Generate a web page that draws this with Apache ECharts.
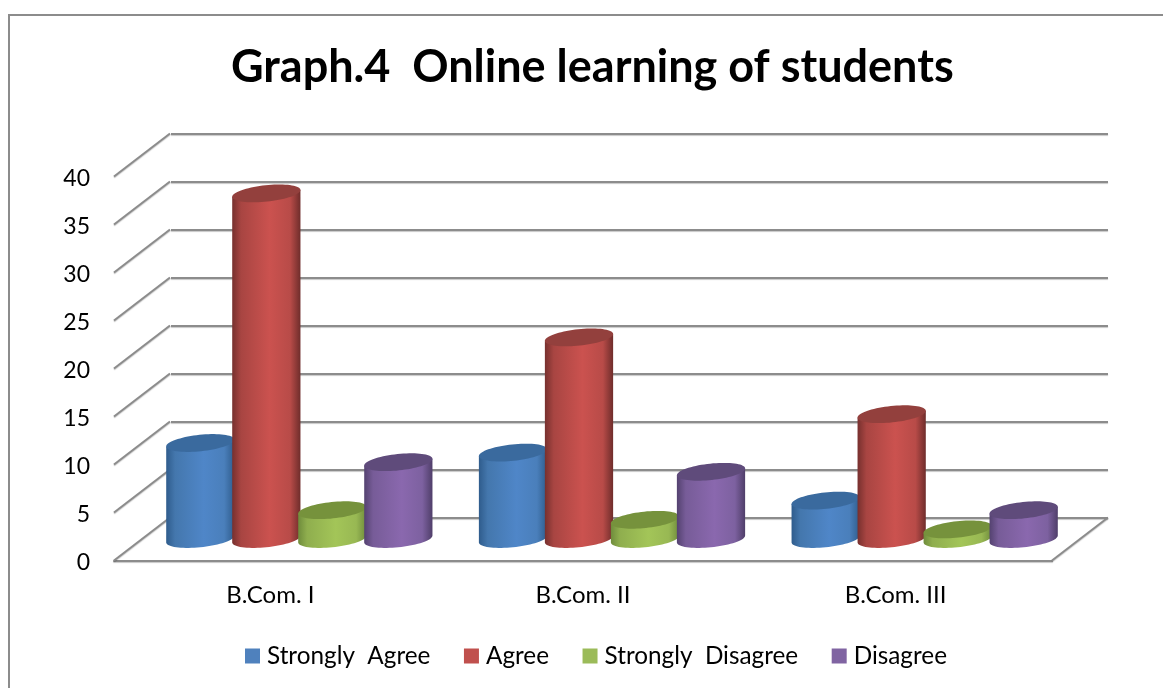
<!DOCTYPE html>
<html><head><meta charset="utf-8">
<style>html,body{margin:0;padding:0;background:#fff}#c{width:1163px;height:688px}</style>
<script src="https://cdn.jsdelivr.net/npm/echarts@6/dist/echarts.min.js"></script>
</head><body><div id="c"></div>
<script>
const categories = ['B.Com. I', 'B.Com. II', 'B.Com. III'];
const stronglyAgree = [10, 9, 4];
const agree = [36, 21, 13];
const stronglyDisagree = [3, 2, 1];
const disagree = [8, 7, 3];
const ticks = [0, 5, 10, 15, 20, 25, 30, 35, 40];

const FONT = 'Lato, Carlito, sans-serif';
const GRID = '#8c8c8c';
const SHADOW = {shadowColor:'rgba(0,0,0,0.22)', shadowBlur:1, shadowOffsetY:1};
const DEPTH_X = 56, DEPTH_Y = -43;
const PITCH = 66, RX = 34.3, RY = 8.2, TILT = -6 * Math.PI / 180;

const palette = [
  {name:'Strongly  Agree', data:stronglyAgree, legend:'#4f81bd', top:'#3a6a9e',
   stops:['#2f5c8c','#4477ad','#4f86c8','#4a7fbb','#2f5c8c']},
  {name:'Agree', data:agree, legend:'#c0504d', top:'#93403d',
   stops:['#77302e','#a84542','#cb524f','#b84b48','#6f2d2b']},
  {name:'Strongly  Disagree', data:stronglyDisagree, legend:'#9bbb59', top:'#76923c',
   stops:['#6f8c3c','#8fae4e','#a3c558','#98b853','#6f8c3c']},
  {name:'Disagree', data:disagree, legend:'#8064a2', top:'#5f4b7b',
   stops:['#544270','#775c98','#8a68ae','#7d61a0','#4f3e69']}
];

function ellipsePoint(cx, cy, t) {
  const c = Math.cos(t), s = Math.sin(t);
  return [cx + RX*c*Math.cos(TILT) - RY*s*Math.sin(TILT),
          cy + RX*c*Math.sin(TILT) + RY*s*Math.cos(TILT)];
}
function ellipse(cx, cy) {
  const pts = [];
  for (let i = 0; i < 72; i++) pts.push(ellipsePoint(cx, cy, i * Math.PI / 36));
  return pts;
}
function cylinderRender(seriesIdx, p) {
  return function (params, api) {
    const base = api.coord([api.value(0), 0]);
    const top = api.coord([api.value(0), api.value(1)]);
    const cx = base[0] + DEPTH_X/2 + 1 + (seriesIdx - 1.5) * PITCH;
    const by = base[1] + DEPTH_Y/2;
    const ty = top[1] + DEPTH_Y/2;
    const t0 = Math.atan2(-RY*Math.sin(TILT), RX*Math.cos(TILT));
    const body = [];
    for (let i = 0; i <= 36; i++) body.push(ellipsePoint(cx, by, t0 + i*Math.PI/36));
    body.push(ellipsePoint(cx, ty, t0 + Math.PI));
    body.push(ellipsePoint(cx, ty, t0));
    const grad = new echarts.graphic.LinearGradient(0,0,1,0,[
      {offset:0,color:p.stops[0]},{offset:0.13,color:p.stops[1]},
      {offset:0.55,color:p.stops[2]},{offset:0.85,color:p.stops[3]},{offset:1,color:p.stops[4]}]);
    return {type:'group', children:[
      {type:'polygon', shape:{points:body}, style:{fill:grad}},
      {type:'polygon', shape:{points:ellipse(cx, ty)}, style:{fill:p.top}}
    ]};
  };
}
function wallRender(params, api) {
  const v = api.value(0);
  const a = api.coord([0, v]);
  const band = api.size([1, 0])[0];
  const lx = a[0] - band/2, rx = lx + band * categories.length;
  const style = {stroke:GRID, lineWidth:2, ...SHADOW};
  const children = [{type:'line', shape:{x1:lx, y1:a[1], x2:lx+DEPTH_X, y2:a[1]+DEPTH_Y}, style}];
  if (v === 0) children.push({type:'line', shape:{x1:rx, y1:a[1], x2:rx+DEPTH_X, y2:a[1]+DEPTH_Y}, style});
  return {type:'group', children};
}

const series = [{
  type:'custom', xAxisIndex:0, yAxisIndex:0, z:1, silent:true, clip:false,
  data: ticks.map(t => [t]), encode:{y:0}, renderItem: wallRender
}];
palette.forEach((p, i) => series.push({
  name:p.name, type:'custom', xAxisIndex:0, yAxisIndex:0, z:3 + i, clip:false,
  itemStyle:{color:p.legend},
  data:p.data.map((v, k) => [k, v]), encode:{x:0, y:1},
  renderItem: cylinderRender(i, p)
}));

const chart = echarts.init(document.getElementById('c'), null, {renderer:'canvas'});
chart.setOption({
  animation:false,
  backgroundColor:'#fff',
  title:{text:'Graph.4  Online learning of students', left:226, top:40,
    textStyle:{fontFamily:FONT, fontSize:45, fontWeight:'bold', color:'#000'}},
  legend:{left:240, top:639, itemWidth:15, itemHeight:15, itemGap:33.5, icon:'rect',
    data:palette.map(p => p.name),
    textStyle:{fontFamily:FONT, fontSize:24.3, color:'#000', padding:[0,0,0,2]}},
  grid:[
    {left:114, right:111, top:176.5, bottom:127.5},
    {left:171, right:55, top:133.5, bottom:170.5}
  ],
  xAxis:[
    {type:'category', gridIndex:0, data:categories, axisTick:{show:false},
     axisLine:{lineStyle:{color:GRID, width:2, ...SHADOW}},
     axisLabel:{fontFamily:FONT, fontSize:24, color:'#000', margin:23}},
    {type:'category', gridIndex:1, data:categories, show:false}
  ],
  yAxis:[
    {type:'value', gridIndex:0, min:0, max:40, interval:5, splitLine:{show:false},
     axisLine:{show:false}, axisTick:{show:false},
     axisLabel:{margin:24, formatter:'{t|{value}}',
       rich:{t:{fontFamily:FONT, fontSize:23, color:'#000', padding:[4,0,0,0]}}}},
    {type:'value', gridIndex:1, min:0, max:40, interval:5,
     axisLine:{show:false}, axisTick:{show:false}, axisLabel:{show:false},
     splitLine:{lineStyle:{color:GRID, width:2, ...SHADOW}}}
  ],
  series,
  graphic:[
    {type:'line', silent:true, shape:{x1:8, y1:15, x2:1163, y2:15}, style:{stroke:'#8c8c8c', lineWidth:2}},
    {type:'line', silent:true, shape:{x1:9, y1:14, x2:9, y2:688}, style:{stroke:'#8c8c8c', lineWidth:2}}
  ]
});
</script></body></html>
